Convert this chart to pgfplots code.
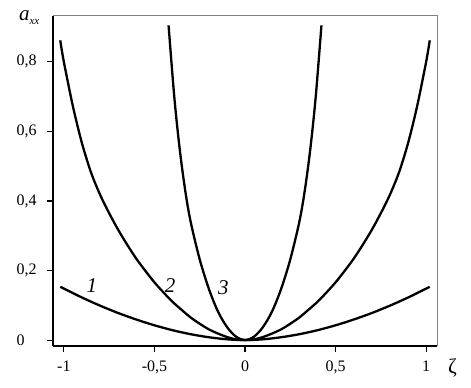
\documentclass[border=0pt]{standalone}
\usepackage{fontspec}
\setmainfont{Liberation Serif}
\usepackage{pgfplots}
\pgfplotsset{compat=1.18}
\begin{document}
\begin{tikzpicture}
\begin{axis}[
  name=ax,
  scale only axis,
  width=384pt, height=330pt,
  xmin=-1.06, xmax=1.06,
  ymin=-0.017, ymax=0.932,
  axis lines*=left,
  axis line style={-, line width=1.5pt, black},
  tick align=outside,
  major tick length=6pt,
  tick style={black, line width=1.1pt},
  xtick={-1,-0.5,0,0.5,1},
  xticklabels={-1,{-0,5},0,{0,5},1},
  ytick={0,0.2,0.4,0.6,0.8},
  yticklabels={0,{0,2},{0,4},{0,6},{0,8}},
  tick label style={font=\fontsize{16}{18}\selectfont},
  yticklabel style={anchor=west, xshift=-34pt},
  xticklabel style={yshift=-5pt},
  xlabel={ζ},
  xlabel style={at={(axis description cs:1.04,-0.068)}, anchor=center, font=\fontsize{21}{22}\selectfont},
  ylabel={\itshape a\raisebox{-0.45ex}{\fontsize{11}{12}\selectfont xx}},
  ylabel style={at={(axis description cs:-0.062,0.995)}, anchor=center, rotate=-90, font=\fontsize{21}{22}\selectfont},
  clip=false,
]
% curve 1
\addplot[black, line width=2.3pt, smooth] coordinates {
(-1.02,0.1533) (-0.9,0.1224) (-0.8,0.099) (-0.7,0.0778) (-0.6,0.0591) (-0.5,0.0425) (-0.4,0.0284) (-0.3,0.0169) (-0.2,0.0082) (-0.1,0.0023) (0,0)
(0.1,0.0023) (0.2,0.0082) (0.3,0.0169) (0.4,0.0284) (0.5,0.0425) (0.6,0.0591) (0.7,0.0778) (0.8,0.099) (0.9,0.1224) (1.02,0.1533)};
% curve 2
\addplot[black, line width=2.3pt, smooth] coordinates {
(-1.02,0.862) (-1.0,0.80) (-0.95,0.672) (-0.9,0.566) (-0.85,0.482) (-0.8,0.418) (-0.75,0.365) (-0.7,0.317) (-0.65,0.274) (-0.6,0.234) (-0.55,0.199) (-0.5,0.166) (-0.45,0.137) (-0.4,0.11) (-0.35,0.087) (-0.3,0.065) (-0.25,0.047) (-0.2,0.031) (-0.15,0.019) (-0.1,0.009) (-0.05,0.002) (0,0)
(0.05,0.002) (0.1,0.009) (0.15,0.019) (0.2,0.031) (0.25,0.047) (0.3,0.065) (0.35,0.087) (0.4,0.11) (0.45,0.137) (0.5,0.166) (0.55,0.199) (0.6,0.234) (0.65,0.274) (0.7,0.317) (0.75,0.365) (0.8,0.418) (0.85,0.482) (0.9,0.566) (0.95,0.672) (1.0,0.80) (1.02,0.862)};
% curve 3
\addplot[black, line width=2.3pt, smooth] coordinates {
(-0.422,0.905) (-0.39,0.697) (-0.36,0.547) (-0.33,0.43) (-0.3,0.34) (-0.25,0.232) (-0.2,0.148) (-0.15,0.083) (-0.1,0.038) (-0.05,0.01) (0,0)
(0.05,0.01) (0.1,0.038) (0.15,0.083) (0.2,0.148) (0.25,0.232) (0.3,0.34) (0.33,0.43) (0.36,0.547) (0.39,0.697) (0.422,0.905)};
\node[font=\fontsize{21}{22}\selectfont\itshape] at (axis cs:-0.845,0.158) {1};
\node[font=\fontsize{21}{22}\selectfont\itshape] at (axis cs:-0.414,0.158) {2};
\node[font=\fontsize{21}{22}\selectfont\itshape] at (axis cs:-0.12,0.15) {3};
\draw[gray, line width=1pt] (rel axis cs:0,1) -- (rel axis cs:1,1) -- (rel axis cs:1,0);
\end{axis}
\pgfresetboundingbox
\path[use as bounding box] ([xshift=-53pt,yshift=-42pt]ax.south west) rectangle ([xshift=34pt,yshift=16pt]ax.north east);
\end{tikzpicture}
\end{document}
